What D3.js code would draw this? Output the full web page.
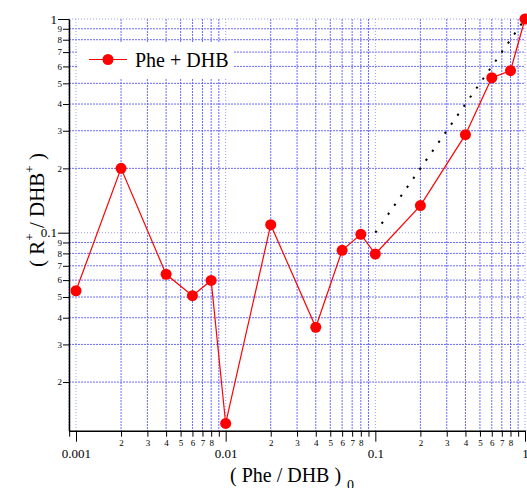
<!DOCTYPE html>
<html>
<head>
<meta charset="utf-8">
<script src="https://cdn.jsdelivr.net/npm/d3@7"></script>
<style>
    body { margin: 0; background: #fff; }
</style>
</head>
<body>
<div id="chart"></div>
<script>
// (Phe / DHB)0 ratios and the measured (R+ / DHB+) ratios
var ratioX = [0.001, 0.002, 0.004, 0.006, 0.008, 0.01, 0.02, 0.04, 0.06, 0.08,
              0.1, 0.2, 0.4, 0.6, 0.8, 1];
var ratioY = [0.0535, 0.2, 0.0639, 0.0507, 0.0598, 0.0128, 0.109, 0.0361, 0.0827, 0.0983,
              0.0795, 0.134, 0.2875, 0.531, 0.573, 1.0];

// dotted reference line y = x
var refX = [0.1, 1];
var refY = [0.1, 1];

var seriesName = 'Phe + DHB';
var xMajor = [0.001, 0.01, 0.1, 1];
var xMajorLabels = ['0.001', '0.01', '0.1', '1'];
var yMajor = [0.1, 1];
var yMajorLabels = ['0.1', '1'];
var minorDigits = [2, 3, 4, 5, 6, 7, 8, 9];

var FONT = "'Liberation Serif'";

var _conf = {
    width: 527, height: 488,
    left: 69, right: 525, top: 19, bottom: 430.7
};

var x = d3.scaleLog().domain([0.000898, 1]).range([_conf.left, _conf.right]);
var y = d3.scaleLog().domain([0.011842, 1]).range([_conf.bottom, _conf.top]);

// minor tick values for each decade inside the domain
function minorTicks(scale) {
    var d = scale.domain(), out = [];
    for (var e = Math.floor(Math.log10(d[0])); e < Math.ceil(Math.log10(d[1])); e++) {
        minorDigits.forEach(function(k) {
            var v = k * Math.pow(10, e);
            if (v >= d[0] && v <= d[1]) out.push(+v.toPrecision(6));
        });
    }
    return out;
}
var xMinor = minorTicks(x);
var yMinor = minorTicks(y);

var svg = d3.select('#chart').append('svg')
    .attr('width', _conf.width)
    .attr('height', _conf.height);

// grid
var grid = svg.append('g').attr('class', 'grid');
grid.selectAll('line.vminor').data(xMinor).enter().append('line')
    .attr('x1', function(d) { return x(d); }).attr('x2', function(d) { return x(d); })
    .attr('y1', _conf.top).attr('y2', _conf.bottom)
    .attr('stroke', '#6a6aff').attr('stroke-width', 1).attr('stroke-dasharray', '2,1');
grid.selectAll('line.hminor').data(yMinor).enter().append('line')
    .attr('y1', function(d) { return y(d); }).attr('y2', function(d) { return y(d); })
    .attr('x1', _conf.left).attr('x2', _conf.right)
    .attr('stroke', '#6a6aff').attr('stroke-width', 1).attr('stroke-dasharray', '2,1');
grid.selectAll('line.vmajor').data(xMajor).enter().append('line')
    .attr('x1', function(d) { return x(d); }).attr('x2', function(d) { return x(d); })
    .attr('y1', _conf.top).attr('y2', _conf.bottom)
    .attr('stroke', '#9d9dff').attr('stroke-width', 1).attr('stroke-dasharray', '1,2');
grid.selectAll('line.hmajor').data(yMajor).enter().append('line')
    .attr('y1', function(d) { return y(d); }).attr('y2', function(d) { return y(d); })
    .attr('x1', _conf.left).attr('x2', _conf.right)
    .attr('stroke', '#9d9dff').attr('stroke-width', 1).attr('stroke-dasharray', '1,2');

// legend box blanks the grid behind it
var legend = svg.append('g').attr('class', 'legend');
legend.append('rect')
    .attr('x', 78).attr('y', 43).attr('width', 156).attr('height', 36)
    .attr('fill', '#fff');

// axes
var xAxis = d3.axisBottom(x)
    .tickValues(xMinor.concat(xMajor))
    .tickSizeOuter(0)
    .tickFormat(function(d) {
        var i = xMajor.indexOf(d);
        if (i >= 0) return xMajorLabels[i];
        var digit = Math.round(d / Math.pow(10, Math.floor(Math.log10(d) + 1e-9)));
        return digit === 9 ? '' : digit;
    });

var yAxis = d3.axisLeft(y)
    .tickValues(yMinor.concat(yMajor))
    .tickSizeOuter(0)
    .tickFormat(function(d) {
        var i = yMajor.indexOf(d);
        if (i >= 0) return yMajorLabels[i];
        return Math.round(d / Math.pow(10, Math.floor(Math.log10(d) + 1e-9)));
    });

var gx = svg.append('g')
    .attr('transform', 'translate(0,' + _conf.bottom + ')')
    .call(xAxis);
var gy = svg.append('g')
    .attr('transform', 'translate(' + _conf.left + ',0)')
    .call(yAxis);

[gx, gy].forEach(function(g) {
    g.select('.domain').attr('stroke', '#000').attr('stroke-width', 1.5);
    g.selectAll('.tick line').attr('stroke', '#000').attr('stroke-width', 1);
    g.selectAll('.tick text').attr('fill', '#000');
});

gx.selectAll('.tick').each(function(d) {
    var major = xMajor.indexOf(d) >= 0;
    var t = d3.select(this);
    t.select('line').attr('y2', major ? 11 : 6);
    t.select('text').attr('y', major ? 18.5 : 8.5)
        .attr('font-size', major ? '13px' : '9px');
});

gy.selectAll('.tick').each(function(d) {
    var major = yMajor.indexOf(d) >= 0;
    var t = d3.select(this);
    t.select('line').attr('x2', major ? -11 : -6);
    t.select('text').attr('x', major ? -12 : -7)
        .attr('font-size', major ? '13px' : '9px');
});

// reference line
svg.append('path')
    .datum(d3.zip(refX, refY))
    .attr('fill', 'none')
    .attr('stroke', '#000')
    .attr('stroke-width', 2)
    .attr('stroke-dasharray', '2.2,8.8')
    .attr('d', d3.line()
        .x(function(d) { return x(d[0]); })
        .y(function(d) { return y(d[1]); }));

// data series
var points = d3.zip(ratioX, ratioY);
svg.append('path')
    .datum(points)
    .attr('fill', 'none')
    .attr('stroke', '#ff0000')
    .attr('stroke-width', 1.2)
    .attr('d', d3.line()
        .x(function(d) { return x(d[0]); })
        .y(function(d) { return y(d[1]); }));

svg.selectAll('circle.pt').data(points).enter().append('circle')
    .attr('class', 'pt')
    .attr('cx', function(d) { return x(d[0]); })
    .attr('cy', function(d) { return y(d[1]); })
    .attr('r', 5.5)
    .attr('fill', '#ff0000');

// legend entry
legend.append('line')
    .attr('x1', 89).attr('x2', 127).attr('y1', 59.5).attr('y2', 59.5)
    .attr('stroke', '#ff0000').attr('stroke-width', 1.2);
legend.append('circle')
    .attr('cx', 108).attr('cy', 59.5).attr('r', 5.5).attr('fill', '#ff0000');
legend.append('text')
    .attr('x', 135).attr('y', 66.5)
    .attr('font-size', '20px')
    .text(seriesName);

// axis titles
var xTitle = svg.append('text')
    .attr('x', 230).attr('y', 481.5)
    .attr('font-size', '20px');
xTitle.append('tspan').text('( Phe / DHB )');
xTitle.append('tspan').attr('dx', 6).attr('dy', 8).attr('font-size', '14px').text('0');

var yTitle = svg.append('text')
    .attr('transform', 'translate(44,210) rotate(-90)')
    .attr('text-anchor', 'middle')
    .attr('font-size', '21px');
yTitle.append('tspan').text('( R');
yTitle.append('tspan').attr('dy', -10).attr('font-size', '13px').text('+');
yTitle.append('tspan').attr('dy', 10).text(' / DHB');
yTitle.append('tspan').attr('dy', -10).attr('font-size', '13px').text('+');
yTitle.append('tspan').attr('dy', 10).text(' )');

// serif everywhere, set inline so the axis defaults do not win
svg.selectAll('text').style('font-family', FONT);
</script>
</body>
</html>
